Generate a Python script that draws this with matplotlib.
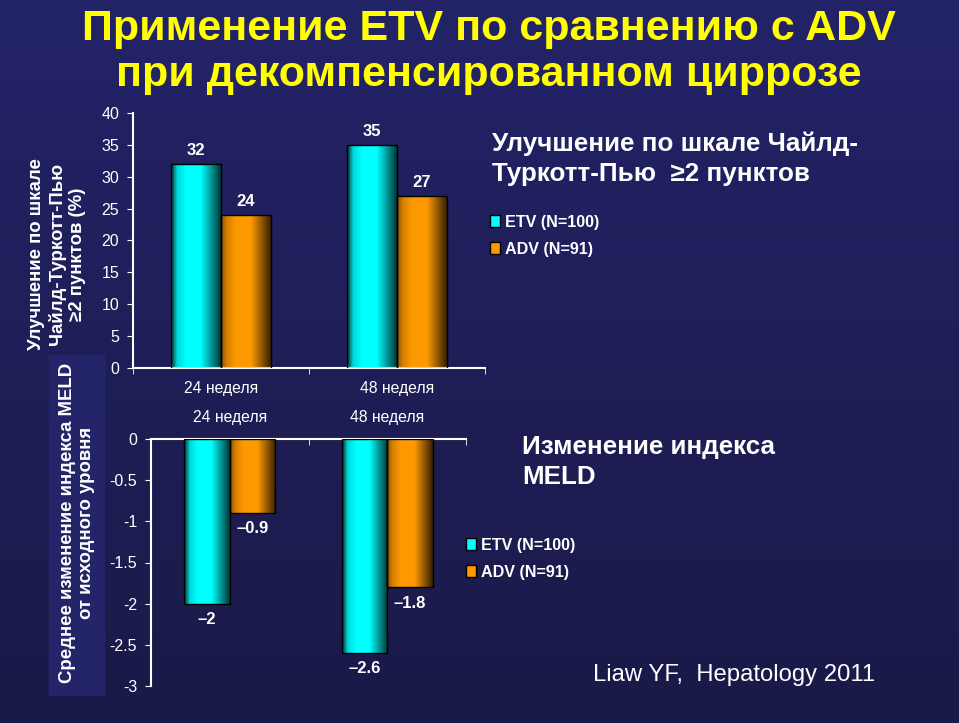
import matplotlib

matplotlib.use("Agg")

import matplotlib.pyplot as plt
import numpy as np
from matplotlib.patches import Rectangle

plt.rcParams["font.family"] = ["Liberation Sans", "DejaVu Sans"]

# data
weeks = ["24 неделя", "48 неделя"]
series = ["ETV (N=100)", "ADV (N=91)"]
ctp_etv = [32, 35]
ctp_adv = [24, 27]
meld_etv = [-2.0, -2.6]
meld_adv = [-0.9, -1.8]

title = "Применение ETV по сравнению с ADV\nпри декомпенсированном циррозе"
ctp_ylabel = "Улучшение по шкале\nЧайлд-Туркотт-Пью\n≥2 пунктов (%)"
meld_ylabel = "Среднее изменение индекса MELD\nот исходного уровня"
ctp_caption = "Улучшение по шкале Чайлд-\nТуркотт-Пью  ≥2 пунктов"
meld_caption = "Изменение индекса\nMELD"
source = "Liaw YF,  Hepatology 2011"

W, H = 959, 723
CYAN = np.array([0.0, 1.0, 1.0])
ORANGE = np.array([1.0, 0.6, 0.0])


def fx(px):
    return px / W


def fy(py):
    return 1 - py / H


def shade(ax, bars, base, lead):
    # horizontal gradient, dark edges like the PowerPoint bar fill
    t = np.linspace(0, 1, 64)
    prof = np.interp(t, [0, 0.12, 0.3, 0.6, 1.0], [lead, 0.85, 1.0, 1.0, 0.22])
    img = (prof[:, None] * base[None, :])[None, :, :]
    for p in bars.patches:
        x0, y0 = p.get_x(), p.get_y()
        im = ax.imshow(img, extent=(x0, x0 + p.get_width(), y0, y0 + p.get_height()),
                       aspect="auto", zorder=2, interpolation="bilinear")
        im.set_clip_path(p)
        p.set_facecolor("none")


def style_axes(ax):
    ax.set_facecolor("none")
    for s in ax.spines.values():
        s.set_visible(False)
    ax.tick_params(colors="white", labelcolor="white", labelsize=11.5)


fig = plt.figure(figsize=(W / 100, H / 100), dpi=100)

# background gradient
bg = fig.add_axes([0, 0, 1, 1])
grad = np.linspace(0, 1, 256)[:, None, None]
top_c = np.array([35, 35, 104]) / 255
bot_c = np.array([26, 26, 72]) / 255
bg.imshow(top_c * (1 - grad) + bot_c * grad, aspect="auto", extent=(0, 1, 0, 1))
bg.set_xlim(0, 1)
bg.set_ylim(0, 1)
bg.axis("off")
bg.add_patch(Rectangle((fx(49), fy(695)), fx(55), (695 - 355) / H,
                       color=(36 / 255, 36 / 255, 104 / 255), zorder=1))

fig.text(fx(489), fy(52), title, ha="center", va="center", color="#FFFF00",
         fontsize=31, fontweight="bold", linespacing=1.2)

x = np.arange(len(weeks))

# top chart: Child-Turcotte-Pugh improvement
ax1 = fig.add_axes([fx(133), fy(368), fx(352), 255 / H])
style_axes(ax1)
w1 = 0.284
b1 = ax1.bar(x - w1 / 2, ctp_etv, w1, edgecolor="black", linewidth=1, zorder=3, label=series[0])
b2 = ax1.bar(x + w1 / 2, ctp_adv, w1, edgecolor="black", linewidth=1, zorder=3, label=series[1])
shade(ax1, b1, CYAN, 0.2)
shade(ax1, b2, ORANGE, 0.55)
ax1.set_xlim(-0.5, 1.5)
ax1.set_ylim(0, 40)
ax1.set_yticks(range(0, 41, 5))
for side in ("left", "bottom"):
    ax1.spines[side].set_visible(True)
    ax1.spines[side].set_color("white")
    ax1.spines[side].set_linewidth(1.5)
ax1.set_xticks(x, weeks, fontsize=11.3)
ax1.tick_params(axis="x", length=0, pad=9)
ax1.set_xticks([-0.5, 0.5, 1.5], minor=True)
ax1.tick_params(axis="x", which="minor", length=4, color="white")
ax1.tick_params(axis="y", length=4, pad=6)
for bars, vals in ((b1, ctp_etv), (b2, ctp_adv)):
    ax1.bar_label(bars, labels=[f"{v:g}" for v in vals], padding=4, color="white",
                  fontsize=12, fontweight="bold")

# bottom chart: MELD change
ax2 = fig.add_axes([fx(151), fy(686), fx(315), 247 / H])
style_axes(ax2)
w2 = 0.29
c1 = ax2.bar(x - w2 / 2, meld_etv, w2, edgecolor="black", linewidth=1, zorder=3, label=series[0])
c2 = ax2.bar(x + w2 / 2, meld_adv, w2, edgecolor="black", linewidth=1, zorder=3, label=series[1])
shade(ax2, c1, CYAN, 0.2)
shade(ax2, c2, ORANGE, 0.55)
ax2.set_xlim(-0.5, 1.5)
ax2.set_ylim(-3, 0)
ax2.set_yticks(np.arange(-3, 0.01, 0.5), ["-3", "-2.5", "-2", "-1.5", "-1", "-0.5", "0"])
for side in ("left", "top"):
    ax2.spines[side].set_visible(True)
    ax2.spines[side].set_color("white")
    ax2.spines[side].set_linewidth(1.5)
ax2.xaxis.tick_top()
ax2.set_xticks(x, weeks, fontsize=11.3)
ax2.tick_params(axis="x", length=0, pad=10)
ax2.set_xticks([-0.5, 0.5, 1.5], minor=True)
ax2.tick_params(axis="x", which="minor", length=4, color="white", direction="in")
ax2.tick_params(axis="y", length=4, pad=6)
for bars, vals in ((c1, meld_etv), (c2, meld_adv)):
    ax2.bar_label(bars, labels=[f"–{abs(v):g}" for v in vals], padding=6, color="white",
                  fontsize=12, fontweight="bold")

# axis titles
fig.text(fx(57), fy(254), ctp_ylabel, rotation=90, ha="center", va="center",
         multialignment="center", color="white", fontsize=13.4, fontweight="bold", linespacing=1.22)
fig.text(fx(77), fy(523), meld_ylabel, rotation=90, ha="center", va="center",
         multialignment="center", color="white", fontsize=13.4, fontweight="bold", linespacing=1.22)

# captions
fig.text(fx(492), fy(159), ctp_caption, ha="left", va="center", color="white",
         fontsize=18.7, fontweight="bold", linespacing=1.3)
fig.text(fx(522), fy(462), meld_caption, ha="left", va="center", color="white",
         fontsize=18.7, fontweight="bold", linespacing=1.3)
fig.text(fx(593), fy(675), source, ha="left", va="center", color="white", fontsize=17.2)

# legends
leg_kw = dict(frameon=False, labelcolor="white", prop={"weight": "bold", "size": 11.6},
              handlelength=0.6, handleheight=0.75, handletextpad=0.35, labelspacing=0.72,
              borderpad=0, borderaxespad=0, loc="upper left", bbox_transform=fig.transFigure)
l1 = ax1.legend(handles=[b1, b2], bbox_to_anchor=(fx(490), fy(215)), **leg_kw)
l2 = ax2.legend(handles=[c1, c2], bbox_to_anchor=(fx(466), fy(538)), **leg_kw)
for leg in (l1, l2):
    for h, c in zip(leg.legend_handles, (CYAN, ORANGE)):
        h.set_facecolor(c)
        h.set_edgecolor("black")

fig.savefig("out.png", dpi=100, facecolor=bot_c)
